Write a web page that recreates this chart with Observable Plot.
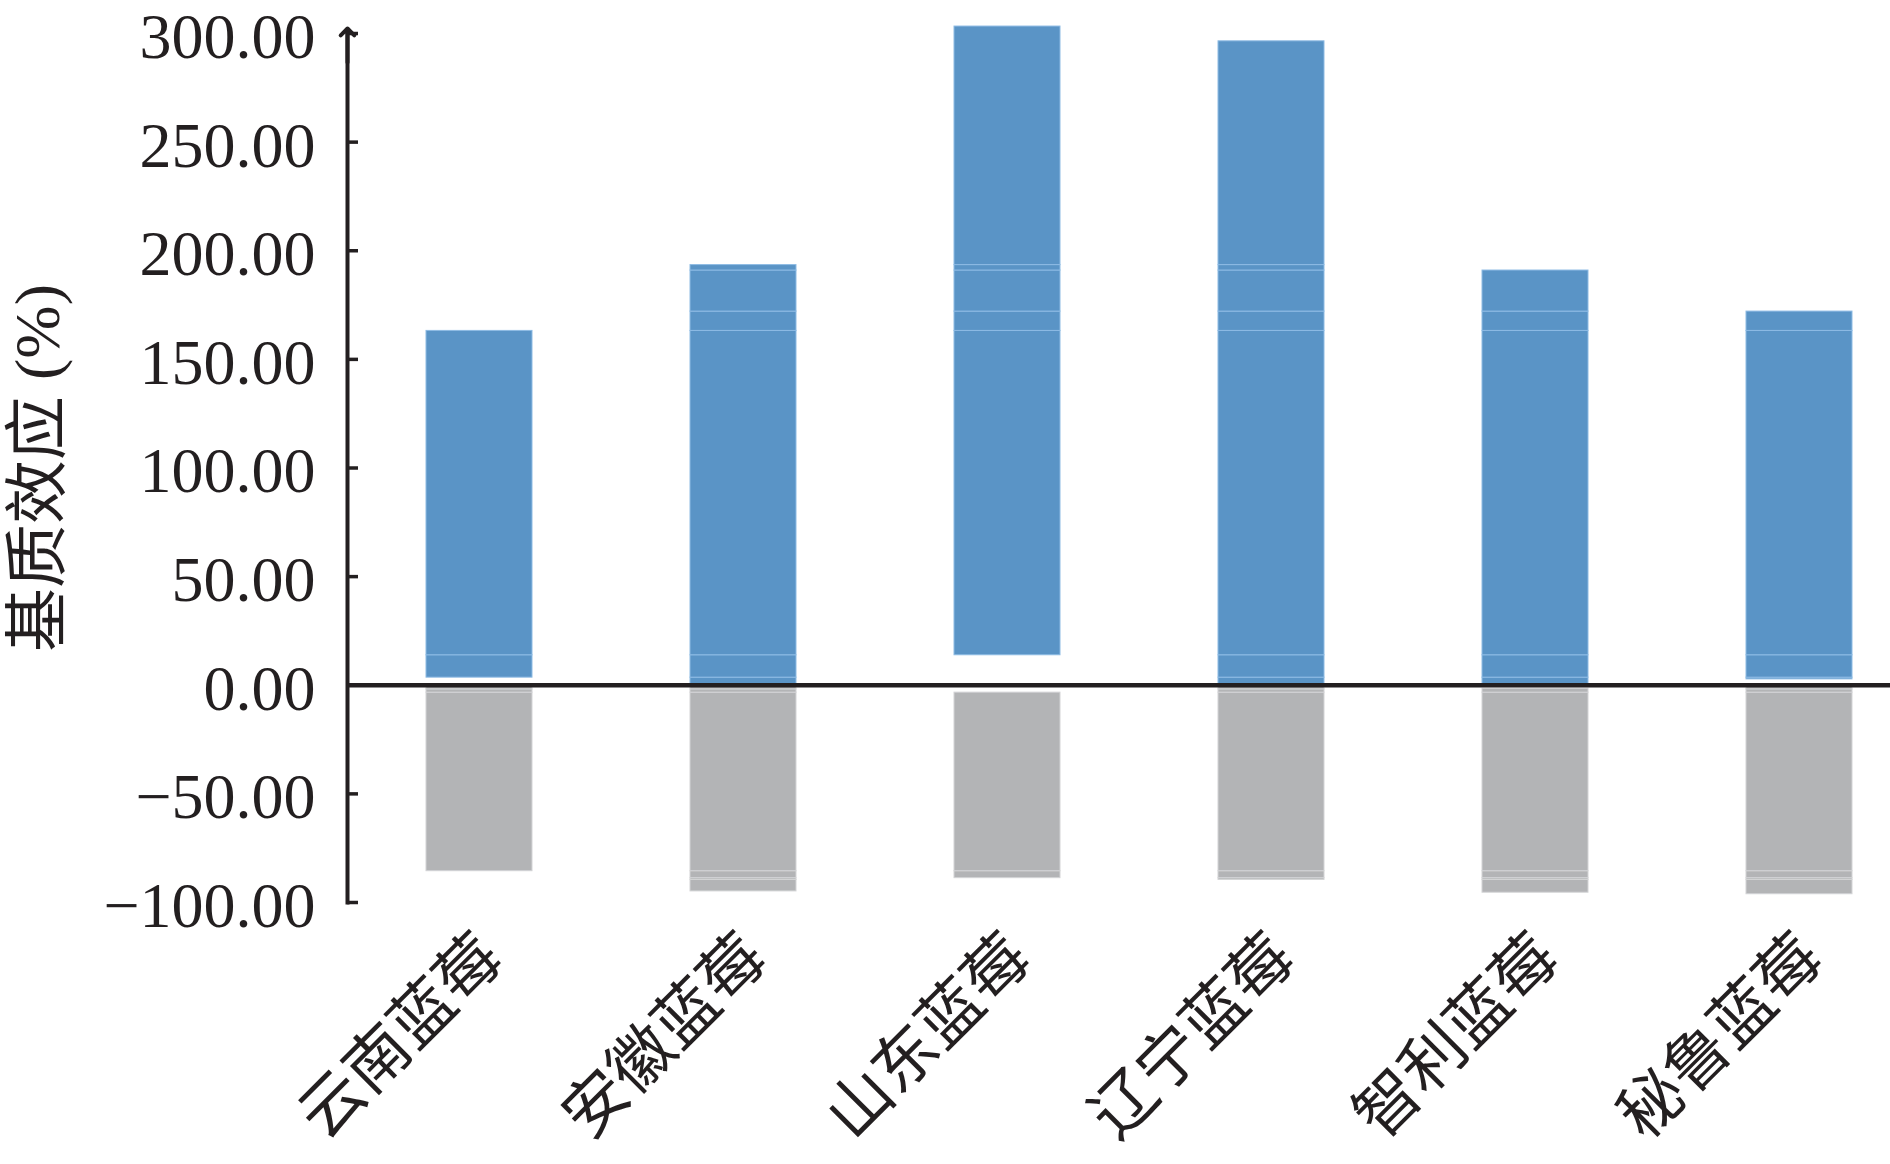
<!DOCTYPE html>
<html>
<head>
<meta charset="utf-8">
<script src="https://cdn.jsdelivr.net/npm/d3@7"></script>
<script src="https://cdn.jsdelivr.net/npm/@observablehq/plot@0.6"></script>
<style>
  html, body { margin: 0; padding: 0; background: #fff; overflow: hidden; }
</style>
</head>
<body>
<div id="chart"></div>
<script>
// ---- data ----
const categories = ["云南蓝莓", "安徽蓝莓", "山东蓝莓", "辽宁蓝莓", "智利蓝莓", "秘鲁蓝莓"];
const posLow  = [3.5, 0, 13.8, 0, 0, 2.7];
const posHigh = [163.1, 193.4, 303.2, 296.4, 190.9, 172.0];
const negHigh = [0, 0, -3.4, 0, -1.6, 0];
const negLow  = [-85.6, -94.9, -88.8, -89.6, -95.5, -96.2];
// faint seams visible inside the bars
const posSeams = [3.5, 13.8, 163.1, 172.0, 190.9, 193.4];
const negSeams = [-1.9, -3.4, -85.6, -88.8, -89.6];
const yTicks  = [-100, -50, 0, 50, 100, 150, 200, 250, 300];
const yLabel  = "基质效应 (%)";

function segments(lows, highs, seams) {
  const out = [];
  categories.forEach((c, i) => {
    const lo = Math.min(lows[i], highs[i]), hi = Math.max(lows[i], highs[i]);
    const pts = [lo, ...seams.filter(v => v > lo + 0.3 && v < hi - 0.3).sort((a, b) => a - b), hi];
    for (let k = 0; k < pts.length - 1; k++) out.push({cat: c, y1: pts[k], y2: pts[k + 1]});
  });
  return out;
}
const posSegs = segments(posLow, posHigh, posSeams);
const negSegs = segments(negLow, negHigh, negSeams);

const ink = "#231f20";
const fmt = d => (d < 0 ? "\u2212" : "") + Math.abs(d).toFixed(2);
const serif = "'Liberation Serif', 'Noto Sans CJK SC', serif";

const chart = Plot.plot({
  width: 1890,
  height: 1164,
  marginLeft: 347,
  marginRight: 0,
  marginTop: 33,
  marginBottom: 262,
  style: {fontFamily: serif, background: "#fff", color: ink},
  x: {domain: categories, range: [347, 1931], paddingInner: 0.6, paddingOuter: 0.3, label: null},
  y: {domain: [-100, 300], label: null},
  marks: [
    Plot.rectY(posSegs, {x: "cat", y1: "y1", y2: "y2", fill: "#5a94c6", stroke: "#8dbbe4", strokeWidth: 1}),
    Plot.rectY(negSegs, {x: "cat", y1: "y1", y2: "y2", fill: "#b3b4b6", stroke: "#d3d4d6", strokeWidth: 1}),
    Plot.ruleY([0], {stroke: ink, strokeWidth: 4.5}),
    Plot.frame({anchor: "left", stroke: ink, strokeWidth: 4}),
    Plot.vector([0], {frameAnchor: "top-left", length: 34, rotate: 0, anchor: "end", dy: -5,
                      stroke: ink, strokeWidth: 4}),
    Plot.axisY({ticks: yTicks, tickSize: 11, dx: 11, text: null, stroke: ink, strokeWidth: 3.5, label: null}),
    Plot.axisY({ticks: yTicks, tickSize: 0, tickPadding: 32, dy: 4, tickFormat: fmt, fontSize: 64, fill: ink, label: null}),
    Plot.axisX({tickSize: 0, tickRotate: -45, tickPadding: 44, dx: 12, fontSize: 64, fill: ink, label: null,
                fontFamily: serif}),
    Plot.text([yLabel], {frameAnchor: "left", text: d => d, rotate: -90, dx: -309, fontSize: 64, fill: ink,
                         textAnchor: "middle", lineAnchor: "middle"})
  ]
});
document.getElementById("chart").appendChild(chart);
</script>
</body>
</html>
